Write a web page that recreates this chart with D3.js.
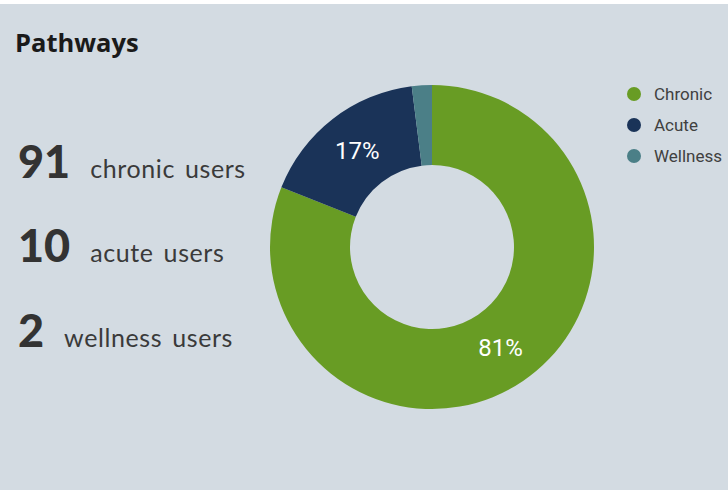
<!DOCTYPE html>
<html>
<head>
<meta charset="utf-8">
<script src="https://cdn.jsdelivr.net/npm/d3@7"></script>
<style>
  html, body { margin: 0; padding: 0; background: #ffffff; }
  svg { display: block; }
</style>
</head>
<body>
<svg id="chart" width="728" height="490"></svg>
<script>
// Pathway shares (percent of users) shown in the donut
const categories = ["Chronic", "Acute", "Wellness"];
const shares = [81, 17, 2];
const sliceColors = ["#689c24", "#1a3358", "#4b7f87"];

// User counts listed beside the donut
const userCounts = [91, 10, 2];
const userLabels = ["chronic users", "acute users", "wellness users"];

const svg = d3.select("#chart");
const W = 728, H = 490;

// panel background
svg.append("rect")
  .attr("x", 0).attr("y", 4).attr("width", W).attr("height", H - 4)
  .attr("fill", "#d3dbe2");

// title
svg.append("text")
  .attr("x", 15).attr("y", 52)
  .attr("font-family", "'Open Sans', 'Noto Sans', sans-serif")
  .attr("font-weight", 700)
  .attr("font-size", 25.5)
  .attr("fill", "#1a1a1a")
  .text("Pathways");

// stat rows on the left
const rowBaselines = [178, 262, 347];
const statFont = "Lato, 'Noto Sans', sans-serif";
const rows = svg.append("g").selectAll("g")
  .data(userCounts.map((c, i) => ({ count: c, label: userLabels[i], y: rowBaselines[i] })))
  .join("g");

rows.each(function(d) {
  const g = d3.select(this);
  const num = g.append("text")
    .attr("x", 18).attr("y", d.y)
    .attr("font-family", statFont)
    .attr("font-weight", 900)
    .attr("font-size", 45)
    .attr("fill", "#333333")
    .text(d.count);
  const w = num.node().getComputedTextLength();
  g.append("text")
    .attr("x", 18 + w + 20).attr("y", d.y)
    .attr("font-family", statFont)
    .attr("font-size", 25)
    .attr("letter-spacing", 0.6)
    .attr("word-spacing", 3)
    .attr("fill", "#3a3a3a")
    .text(d.label);
});

// donut
const cx = 432, cy = 247;
const outerR = 162, innerR = 82;
const pie = d3.pie().sort(null).value(d => d.value);
const arcs = pie(categories.map((c, i) => ({ name: c, value: shares[i], color: sliceColors[i] })));
const arc = d3.arc().innerRadius(innerR).outerRadius(outerR);
const labelArc = d3.arc().innerRadius((innerR + outerR) / 2).outerRadius((innerR + outerR) / 2);

const donut = svg.append("g").attr("transform", `translate(${cx},${cy})`);
donut.selectAll("path")
  .data(arcs)
  .join("path")
  .attr("d", arc)
  .attr("fill", d => d.data.color);

donut.selectAll("text")
  .data(arcs.filter(d => d.data.value >= 5))
  .join("text")
  .attr("transform", d => `translate(${labelArc.centroid(d)})`)
  .attr("text-anchor", "middle")
  .attr("dominant-baseline", "central")
  .attr("font-family", "Roboto, sans-serif")
  .attr("font-size", 24)
  .attr("fill", "#ffffff")
  .text(d => d.data.value + "%");

// legend
const legend = svg.append("g").attr("transform", "translate(634,94)");
const items = legend.selectAll("g")
  .data(categories)
  .join("g")
  .attr("transform", (d, i) => `translate(0,${i * 31})`);
items.append("circle")
  .attr("r", 7)
  .attr("fill", (d, i) => sliceColors[i]);
items.append("text")
  .attr("x", 20).attr("y", 0)
  .attr("dominant-baseline", "central")
  .attr("font-family", "Roboto, sans-serif")
  .attr("font-size", 17)
  .attr("fill", "#404040")
  .text(d => d);
</script>
</body>
</html>
